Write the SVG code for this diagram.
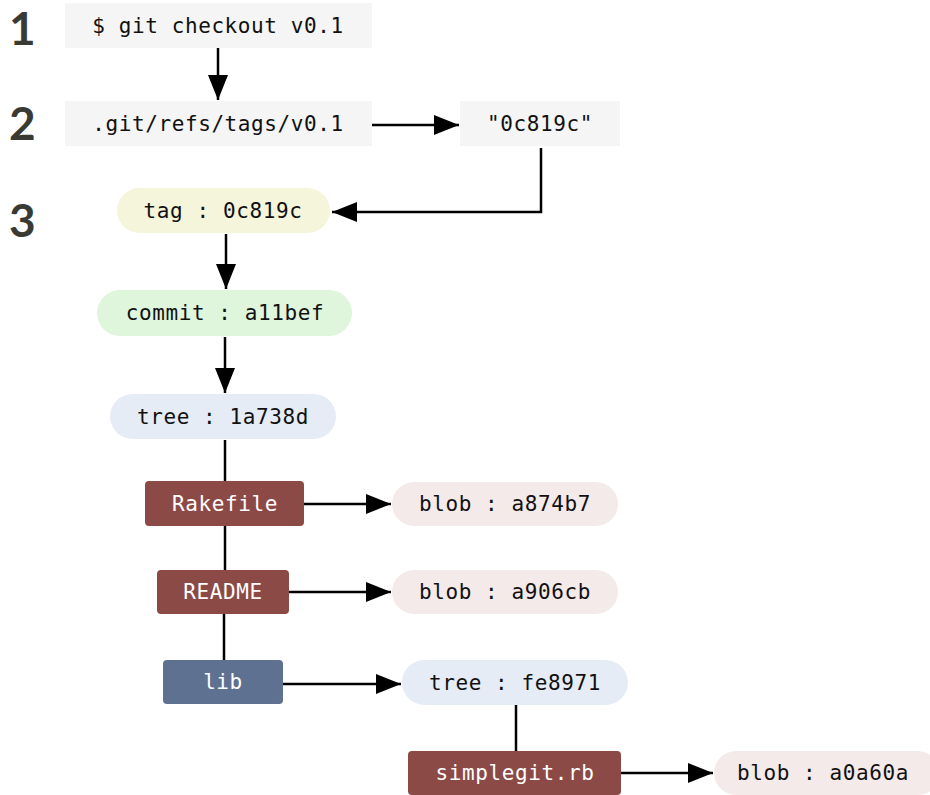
<svg xmlns="http://www.w3.org/2000/svg" width="930" height="795" viewBox="0 0 930 795">
<defs>
<marker id="arr" markerUnits="userSpaceOnUse" markerWidth="25" markerHeight="20" refX="25" refY="10" orient="auto">
<path d="M0,0 L25,10 L0,20 z" fill="#000"/>
</marker>
<style>
.t{font-family:"DejaVu Sans Mono","Liberation Mono",monospace;font-size:21px;letter-spacing:0.6px;text-anchor:middle;dominant-baseline:central;fill:#111}
.w{fill:#fff}
.num{font-family:Lato,"Noto Sans",sans-serif;font-weight:700;font-size:46px;fill:#3a3a34}
.c{stroke:#000;stroke-width:2.5;fill:none}
.ca{stroke:#000;stroke-width:2.5;fill:none;marker-end:url(#arr)}
</style>
</defs>
<rect width="930" height="795" fill="#fff"/>
<g id="steps">
<text class="num" x="9" y="45">1</text>
<text class="num" x="9" y="140">2</text>
<text class="num" x="9" y="237">3</text>
</g>
<g id="connectors">
<path class="ca" d="M218,48 V100"/>
<path class="ca" d="M372,125 H459"/>
<path class="ca" d="M541,148 V212 H332"/>
<path class="ca" d="M226,234 V289"/>
<path class="ca" d="M225,337 V393"/>
<path class="c" d="M225,440 V482"/>
<path class="c" d="M225,526 V570"/>
<path class="c" d="M224,614 V660"/>
<path class="ca" d="M304,504 H391"/>
<path class="ca" d="M289,592 H391"/>
<path class="ca" d="M283,684 H401"/>
<path class="c" d="M516,705 V751"/>
<path class="ca" d="M621,773 H713"/>
</g>
<g id="cmd"><rect x="65" y="3" width="307" height="45" fill="#f5f5f5"/><text class="t" x="218" y="26">$ git checkout v0.1</text></g>
<g id="ref"><rect x="65" y="101" width="307" height="45" fill="#f5f5f5"/><text class="t" x="218" y="124">.git/refs/tags/v0.1</text></g>
<g id="refval"><rect x="460" y="101" width="160" height="45" fill="#f5f5f5"/><text class="t" x="540" y="124">"0c819c"</text></g>
<g id="tag"><rect x="117" y="188" width="213" height="45" rx="22.5" fill="#f5f5dc"/><text class="t" x="223" y="211">tag : 0c819c</text></g>
<g id="commit"><rect x="97" y="290" width="255" height="46" rx="23" fill="#dff5dc"/><text class="t" x="225" y="313">commit : a11bef</text></g>
<g id="tree1"><rect x="110" y="394" width="226" height="45" rx="22.5" fill="#e6ecf6"/><text class="t" x="223" y="417">tree : 1a738d</text></g>
<g id="rakefile"><rect x="145" y="481" width="159" height="45" rx="4" fill="#8c4a47"/><text class="t w" x="225" y="504">Rakefile</text></g>
<g id="readme"><rect x="157" y="570" width="132" height="44" rx="4" fill="#8c4a47"/><text class="t w" x="223" y="592">README</text></g>
<g id="lib"><rect x="163" y="660" width="120" height="44" rx="4" fill="#5f7191"/><text class="t w" x="223" y="682">lib</text></g>
<g id="blob1"><rect x="392" y="482" width="226" height="44" rx="22" fill="#f5eaea"/><text class="t" x="505" y="504">blob : a874b7</text></g>
<g id="blob2"><rect x="392" y="570" width="226" height="44" rx="22" fill="#f5eaea"/><text class="t" x="505" y="592">blob : a906cb</text></g>
<g id="tree2"><rect x="402" y="660" width="226" height="45" rx="22.5" fill="#e6ecf6"/><text class="t" x="515" y="683">tree : fe8971</text></g>
<g id="simplegit"><rect x="408" y="751" width="213" height="44" rx="4" fill="#8c4a47"/><text class="t w" x="515" y="773">simplegit.rb</text></g>
<g id="blob3"><rect x="714" y="751" width="226" height="44" rx="22" fill="#f5eaea"/><text class="t" x="823" y="773">blob : a0a60a</text></g>
</svg>
